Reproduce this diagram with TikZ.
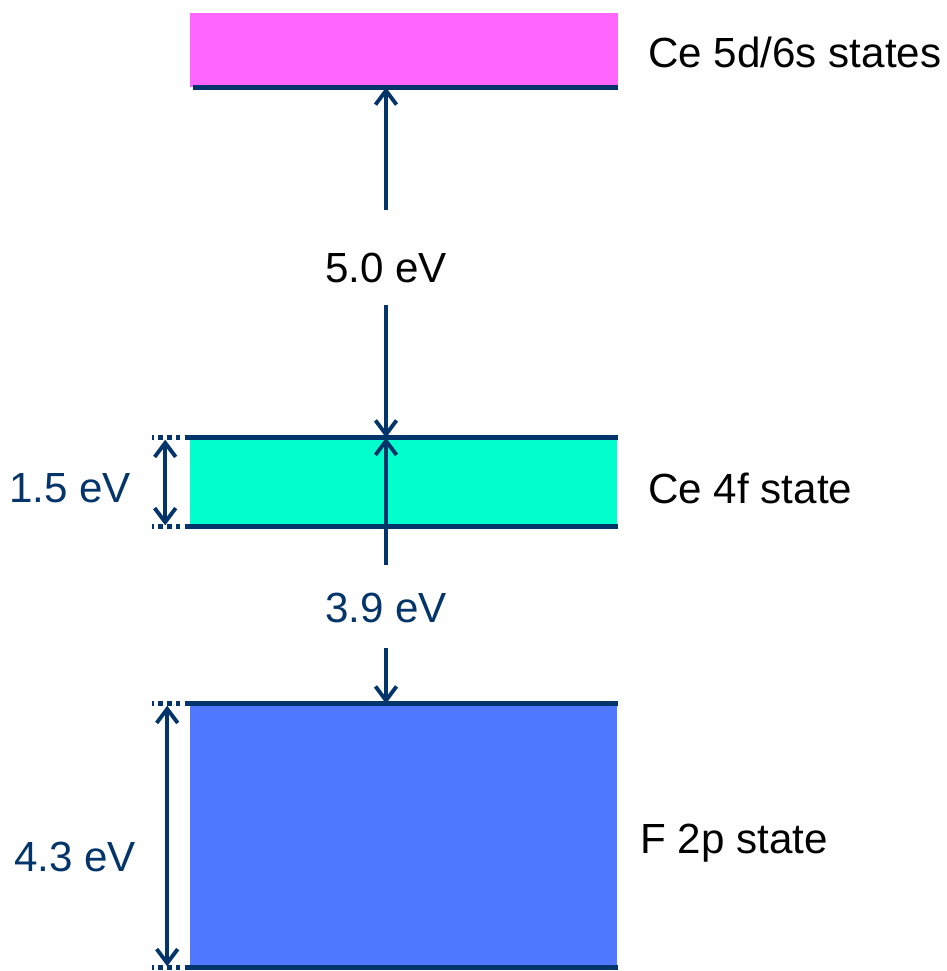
\documentclass[tikz,border=0pt]{standalone}
\usepackage{fontspec}
\setmainfont{Liberation Sans}
\usepackage{xcolor}
\usepackage{tikz}
\usetikzlibrary{arrows.meta,calc,positioning}
\definecolor{navy}{HTML}{04356A}
\definecolor{cefive}{HTML}{FF66FF}
\definecolor{cefour}{HTML}{00FFCC}
\definecolor{ftwo}{HTML}{4F77FF}

\begin{document}
\begin{tikzpicture}[x=0.02cm,y=-0.02cm,
  band/.style={inner sep=0pt,minimum width=8.56cm},
  level/.style={navy,line width=2.8pt},
  dots/.style={navy,line width=2.8pt,dash pattern=on 2.6pt off 2.4pt},
  gap/.style={navy,line width=2.2pt,-{Straight Barb[length=8pt,width=12pt]}},
  twogap/.style={navy,line width=2.2pt,{Straight Barb[length=8pt,width=12pt]}-{Straight Barb[length=8pt,width=12pt]}},
  lbl/.style={inner sep=0pt,font=\fontsize{24}{28}\selectfont}]
  \useasboundingbox (0,0) rectangle (947,971);
  % bands
  \node[band,fill=cefive,minimum height=1.48cm] (ced) at (404,50) {};
  \node[band,fill=cefour,minimum height=1.76cm] (cef) at (403.5,482) {};
  \node[band,fill=ftwo,minimum height=5.26cm] (fp) at (403.5,835.5) {};
  \draw[level] ([xshift=0.06cm]ced.south west) -- (ced.south east);
  \draw[level] (cef.north west) -- (cef.north east);
  \draw[level] (cef.south west) -- (cef.south east);
  \draw[level] (fp.north west) -- (fp.north east);
  \draw[level] (fp.south west) -- (fp.south east);
  % band names
  \node[lbl,anchor=west] (cedname) at (648,52) {Ce 5d/6s states};
  \node[lbl,anchor=west] (cefname) at (648,488) {Ce 4f state};
  \node[lbl,anchor=west] (fpname) at (640,843) {F 2p state};
  % gaps
  \node[lbl] (gapd) at (386,268) {5.0 eV};
  \node[lbl,navy] (gapf) at (386,608) {3.9 eV};
  \coordinate (gapdtop) at (386,210);
  \coordinate (gapdbot) at (386,305);
  \coordinate (gapftop) at (386,565);
  \coordinate (gapfbot) at (386,648);
  \draw[gap] (gapdtop) -- (gapdtop |- ced.south);
  \draw[gap] (gapdbot) -- (gapdbot |- cef.north);
  \draw[gap] (gapftop) -- (gapftop |- cef.north);
  \draw[gap] (gapfbot) -- (gapfbot |- fp.north);
  % widths
  \draw[dots] (cef.north west) -- ++(-37,0) coordinate (ceftop);
  \draw[dots] (cef.south west) -- ++(-37,0) coordinate (cefbot);
  \draw[dots] (fp.north west) -- ++(-37,0) coordinate (fptop);
  \draw[dots] (fp.south west) -- ++(-37,0) coordinate (fpbot);
  \draw[twogap] ($(ceftop)+(13,2)$) -- ($(cefbot)+(13,-1)$);
  \draw[twogap] ($(fptop)+(15,2)$) -- ($(fpbot)+(15,-1)$);
  \node[lbl,navy] (cefwidth) at (70,488) {1.5 eV};
  \node[lbl,navy] (fpwidth) at (75,857) {4.3 eV};
\end{tikzpicture}
\end{document}
